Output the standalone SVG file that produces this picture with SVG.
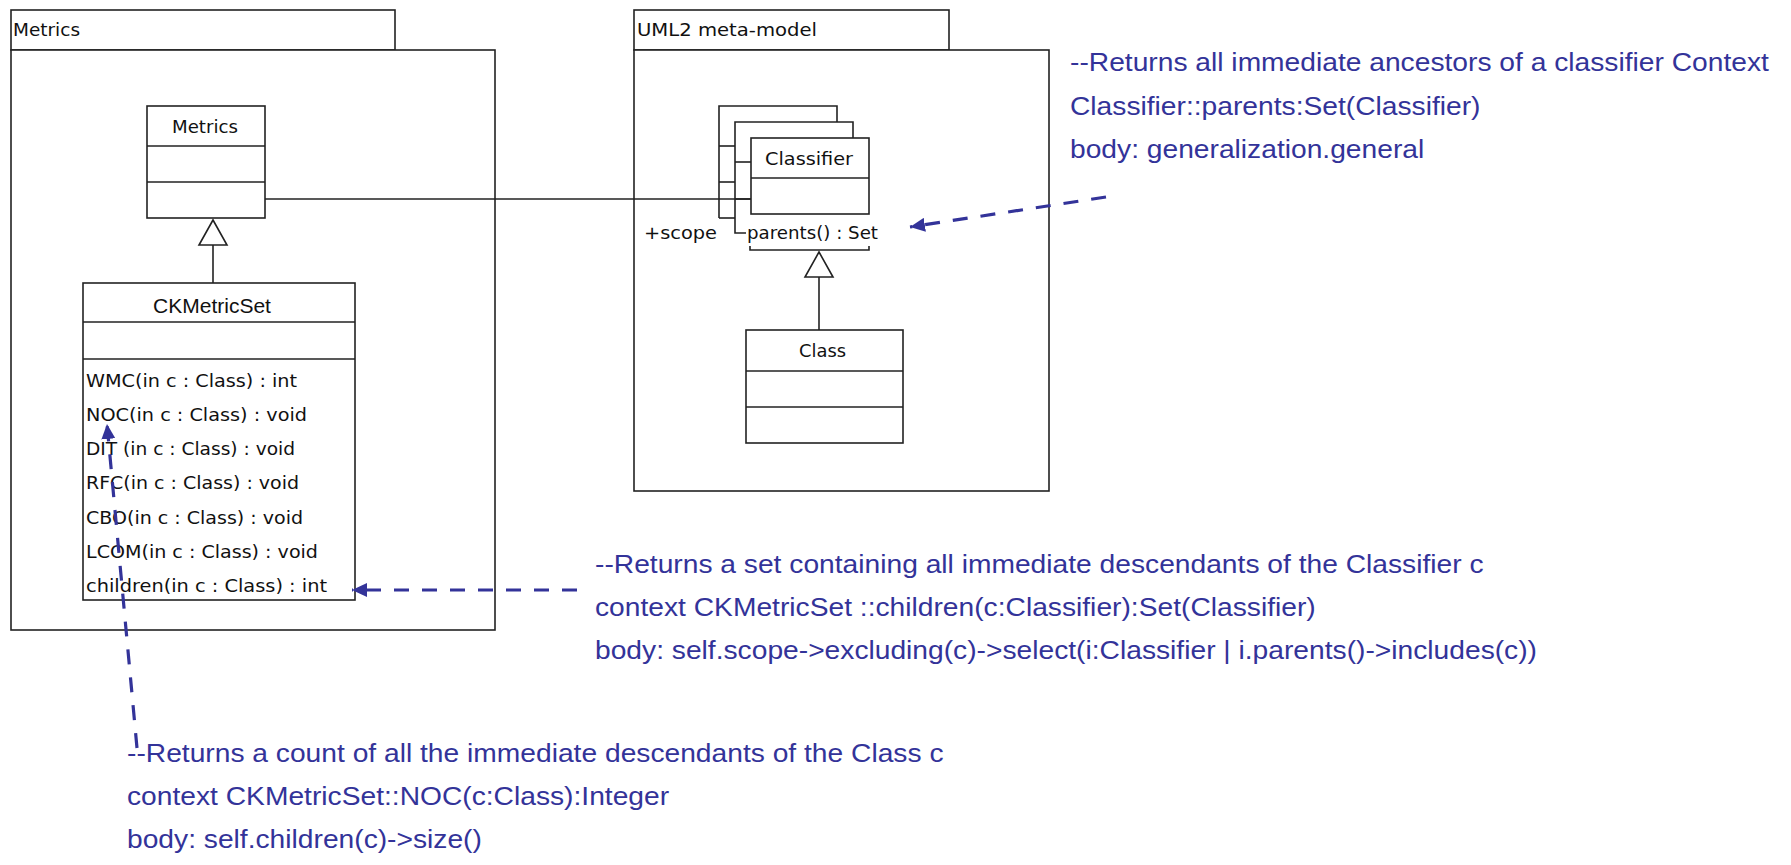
<svg xmlns="http://www.w3.org/2000/svg" width="1791" height="865" viewBox="0 0 1791 865">
<style>
.box{fill:#fff;stroke:#222;stroke-width:1.6}
.ln{fill:none;stroke:#222;stroke-width:1.6}
.u{font-family:"DejaVu Sans",sans-serif;font-size:18.5px;fill:#111}
.h{font-family:"Liberation Sans",Arial,sans-serif;font-size:21px;fill:#111}
.note{font-family:"Liberation Sans",Arial,sans-serif;font-size:26.5px;fill:#333399}
.dash{fill:none;stroke:#333399;stroke-width:3.2;stroke-dasharray:15 13}
.tri{fill:#fff;stroke:#222;stroke-width:1.6}
</style>
<defs>
<marker id="arr" viewBox="0 0 15 14" refX="15" refY="7" markerWidth="15" markerHeight="14" markerUnits="userSpaceOnUse" orient="auto">
<path d="M0,0 L15,7 L0,14 z" fill="#333399"/>
</marker>
</defs>
<rect width="1791" height="865" fill="#fff"/>

<g id="pkg-metrics">
<rect class="box" x="11" y="10" width="384" height="40"/>
<rect class="box" x="11" y="50" width="484" height="580"/>
<text class="u" x="13" y="36" textLength="67" lengthAdjust="spacingAndGlyphs">Metrics</text>
</g>

<g id="pkg-uml2">
<rect class="box" x="634" y="10" width="315" height="40"/>
<rect class="box" x="634" y="50" width="415" height="441"/>
<text class="u" x="637" y="36" textLength="180" lengthAdjust="spacingAndGlyphs">UML2 meta-model</text>
</g>

<g id="class-metrics">
<rect class="box" x="147" y="106" width="118" height="112"/>
<line class="ln" x1="147" y1="146" x2="265" y2="146"/>
<line class="ln" x1="147" y1="182" x2="265" y2="182"/>
<text class="u" x="172" y="133" textLength="66" lengthAdjust="spacingAndGlyphs">Metrics</text>
</g>

<g id="class-ckmetricset">
<rect class="box" x="83" y="283" width="272" height="317"/>
<line class="ln" x1="83" y1="322" x2="355" y2="322"/>
<line class="ln" x1="83" y1="359" x2="355" y2="359"/>
<text class="h" x="212" y="313" text-anchor="middle">CKMetricSet</text>
<text class="u" x="86" y="387" textLength="211" lengthAdjust="spacingAndGlyphs">WMC(in c : Class) : int</text>
<text class="u" x="86" y="421" textLength="221" lengthAdjust="spacingAndGlyphs">NOC(in c : Class) : void</text>
<text class="u" x="86" y="455" textLength="209" lengthAdjust="spacingAndGlyphs">DIT (in c : Class) : void</text>
<text class="u" x="86" y="489" textLength="213" lengthAdjust="spacingAndGlyphs">RFC(in c : Class) : void</text>
<text class="u" x="86" y="524" textLength="217" lengthAdjust="spacingAndGlyphs">CBO(in c : Class) : void</text>
<text class="u" x="86" y="558" textLength="232" lengthAdjust="spacingAndGlyphs">LCOM(in c : Class) : void</text>
<text class="u" x="86" y="592" textLength="241" lengthAdjust="spacingAndGlyphs">children(in c : Class) : int</text>
</g>

<g id="class-classifier">
<path class="ln" d="M719,218 L719,106 L837,106 L837,122"/>
<line class="ln" x1="719" y1="218" x2="735" y2="218"/>
<line class="ln" x1="719" y1="146" x2="735" y2="146"/>
<line class="ln" x1="719" y1="182" x2="735" y2="182"/>
<rect x="735" y="122" width="118" height="92" fill="#fff"/>
<path class="ln" d="M746,233 L735,233 L735,122 L853,122 L853,138"/>
<line class="ln" x1="735" y1="162" x2="751" y2="162"/>
<line class="ln" x1="735" y1="199" x2="751" y2="199"/>
<rect class="box" x="751" y="138" width="118" height="76"/>
<line class="ln" x1="751" y1="178" x2="869" y2="178"/>
<text class="u" x="765" y="165" textLength="88" lengthAdjust="spacingAndGlyphs">Classifier</text>
<text class="u" x="747" y="239" textLength="131" lengthAdjust="spacingAndGlyphs">parents() : Set</text>
<path class="ln" d="M750,246 L750,250 L869,250 L869,246"/>
<text class="u" x="644" y="239" textLength="73" lengthAdjust="spacingAndGlyphs">+scope</text>
</g>

<g id="class-class">
<rect class="box" x="746" y="330" width="157" height="113"/>
<line class="ln" x1="746" y1="371" x2="903" y2="371"/>
<line class="ln" x1="746" y1="407" x2="903" y2="407"/>
<text class="u" x="799" y="357" textLength="47" lengthAdjust="spacingAndGlyphs">Class</text>
</g>

<g id="note-parents" transform="translate(1070,0) scale(1.064,1)">
<text class="note" x="0" y="71">--Returns all immediate ancestors of a classifier Context</text>
<text class="note" x="0" y="115">Classifier::parents:Set(Classifier)</text>
<text class="note" x="0" y="158">body: generalization.general</text>
</g>

<g id="note-children" transform="translate(595,0) scale(1.064,1)">
<text class="note" x="0" y="573">--Returns a set containing all immediate descendants of the Classifier c</text>
<text class="note" x="0" y="616">context CKMetricSet ::children(c:Classifier):Set(Classifier)</text>
<text class="note" x="0" y="659">body: self.scope-&gt;excluding(c)-&gt;select(i:Classifier | i.parents()-&gt;includes(c))</text>
</g>

<g id="note-noc" transform="translate(127,0) scale(1.064,1)">
<text class="note" x="0" y="762">--Returns a count of all the immediate descendants of the Class c</text>
<text class="note" x="0" y="805">context CKMetricSet::NOC(c:Class):Integer</text>
<text class="note" x="0" y="848">body: self.children(c)-&gt;size()</text>
</g>

<g id="connectors">
<line class="ln" x1="265" y1="199" x2="751" y2="199"/>
<line class="ln" x1="213" y1="245" x2="213" y2="283"/>
<polygon class="tri" points="213,220 227,245 199,245"/>
<line class="ln" x1="819" y1="277" x2="819" y2="330"/>
<polygon class="tri" points="819,252 833,277 805,277"/>
<path class="dash" d="M577,590 L352,590" marker-end="url(#arr)"/>
<path class="dash" d="M137,748 L107,424" marker-end="url(#arr)"/>
<path class="dash" d="M1106,197 L910,227" marker-end="url(#arr)"/>
</g>
</svg>
